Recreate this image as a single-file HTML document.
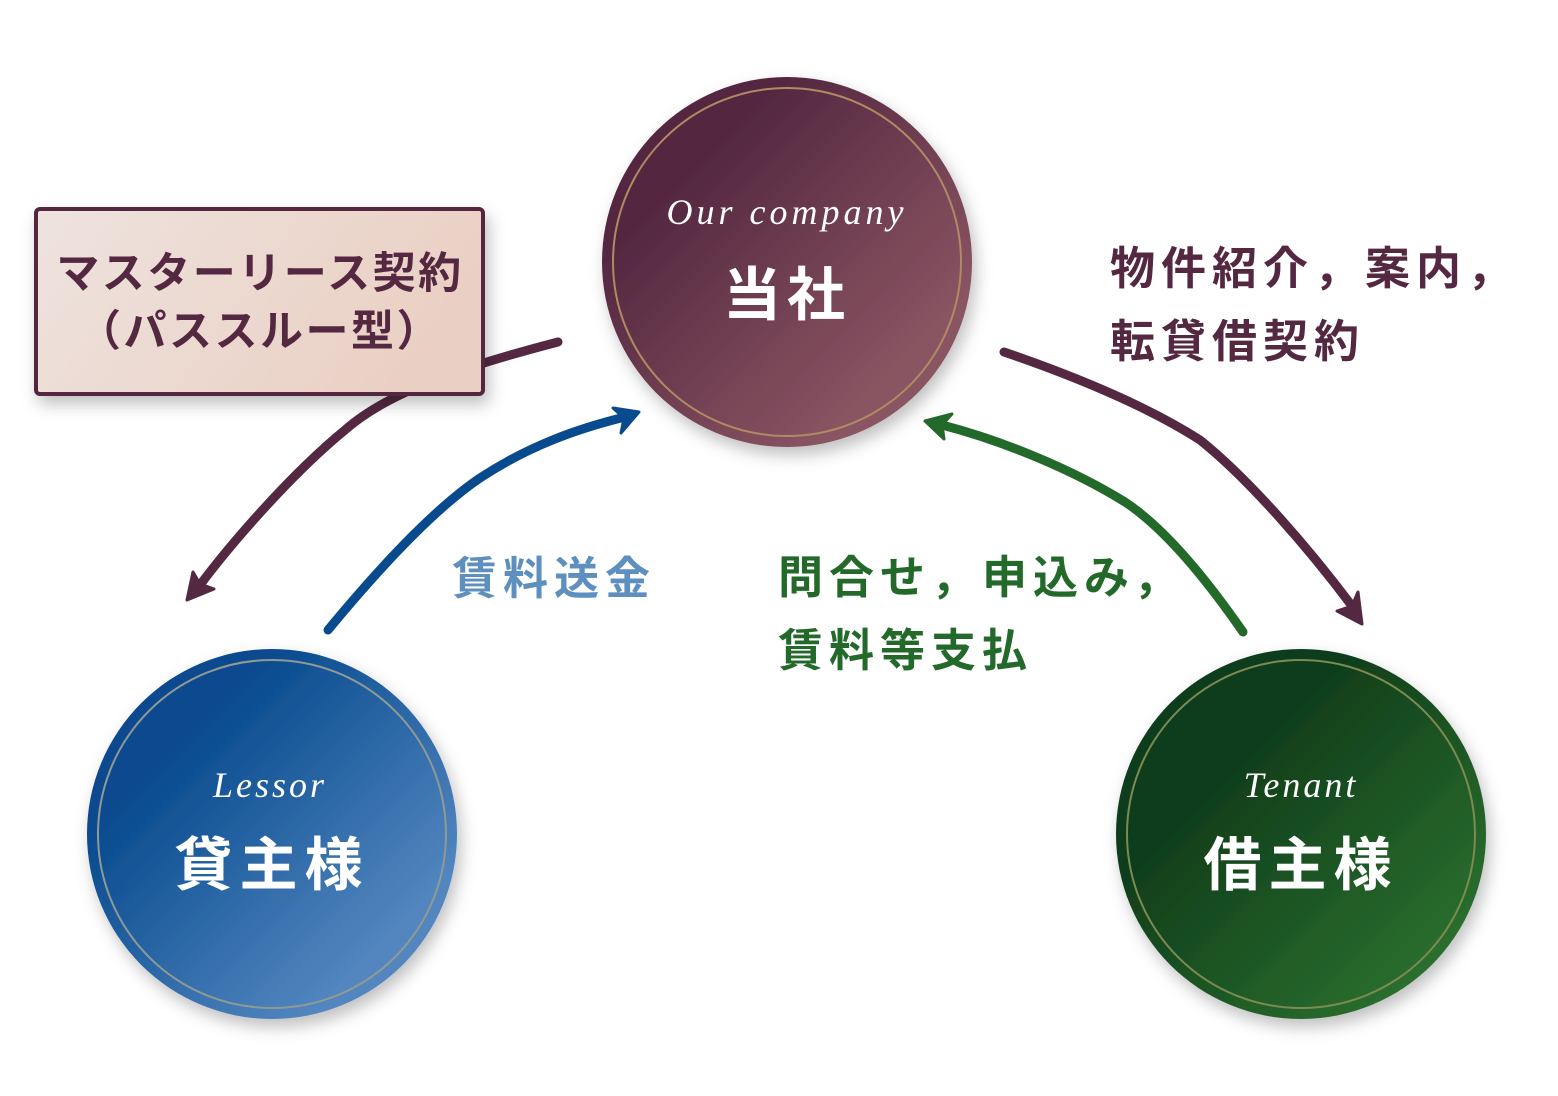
<!DOCTYPE html>
<html><head><meta charset="utf-8"><style>
html,body{margin:0;padding:0;background:#fff;width:1558px;height:1096px;overflow:hidden}
svg{display:block}
.jp{font-family:"Liberation Sans","Noto Sans CJK JP",sans-serif;font-weight:700}
.en{font-family:"Liberation Serif",serif;font-style:italic;fill:#fff}
</style></head><body>
<svg width="1558" height="1096" viewBox="0 0 1558 1096" xmlns="http://www.w3.org/2000/svg">
<defs>
<linearGradient id="gc" x1="0" y1="0" x2="1" y2="1"><stop offset="0.25" stop-color="#552841"/><stop offset="0.8" stop-color="#8a5562"/></linearGradient>
<linearGradient id="gl" x1="0" y1="0" x2="1" y2="1"><stop offset="0.25" stop-color="#074a8e"/><stop offset="0.8" stop-color="#5286bf"/></linearGradient>
<linearGradient id="gt" x1="0" y1="0" x2="1" y2="1"><stop offset="0.3" stop-color="#0f3c1a"/><stop offset="0.85" stop-color="#2a6e2e"/></linearGradient>
<linearGradient id="gb" x1="0" y1="0" x2="1" y2="0.3"><stop offset="0" stop-color="#eee3de"/><stop offset="1" stop-color="#ead0c4"/></linearGradient>
<filter id="sh" x="-20%" y="-20%" width="140%" height="140%"><feDropShadow dx="4" dy="8" stdDeviation="8" flood-color="#000" flood-opacity="0.25"/></filter>
</defs>

<g fill="none" stroke-width="9" stroke-linecap="round">
<path d="M558,342 C470,365 390,390 345,430 C290,475 230,545 200,585" stroke="#552841"/>
<path d="M328,630 C390,555 440,505 480,478 C530,445 580,428 625,417" stroke="#074a8e"/>
<path d="M1243,632 C1200,570 1160,525 1125,502 C1070,468 1000,440 942,425" stroke="#236a2a"/>
<path d="M1004,352 C1080,378 1150,408 1200,440 C1250,480 1310,550 1352,606" stroke="#552841"/>
</g>
<path d="M187,600 L193,572 L200,584 L214,589 Z" fill="#552841" stroke="#552841" stroke-width="3" stroke-linejoin="round"/>
<path d="M639,412 L621,433 L624,418 L613,408 Z" fill="#074a8e" stroke="#074a8e" stroke-width="3" stroke-linejoin="round"/>
<path d="M925,421 L952,414 L942,425 L944,439 Z" fill="#236a2a" stroke="#236a2a" stroke-width="3" stroke-linejoin="round"/>
<path d="M1362,624 L1337,611 L1352,606 L1358,592 Z" fill="#552841" stroke="#552841" stroke-width="3" stroke-linejoin="round"/>

<rect x="36" y="209" width="447" height="185" rx="4" fill="url(#gb)" stroke="#552841" stroke-width="4" filter="url(#sh)"/>
<text class="jp" x="260" y="288" font-size="43" fill="#552841" text-anchor="middle" letter-spacing="2.5">マスターリース契約</text>
<text class="jp" x="260" y="346" font-size="43" fill="#552841" text-anchor="middle" letter-spacing="2.5">（パススルー型）</text>

<g filter="url(#sh)">
<circle cx="787" cy="262" r="185" fill="url(#gc)"/>
<circle cx="272" cy="834" r="185" fill="url(#gl)"/>
<circle cx="1301" cy="834" r="185" fill="url(#gt)"/>
</g>
<circle cx="787" cy="262" r="174" fill="none" stroke="#b08a62" stroke-width="2"/>
<circle cx="272" cy="834" r="174" fill="none" stroke="#8f9a95" stroke-width="2"/>
<circle cx="1301" cy="834" r="174" fill="none" stroke="#7d8a50" stroke-width="2"/>

<text class="en" x="787" y="224" font-size="36" text-anchor="middle" letter-spacing="4">Our company</text>
<text class="jp" x="787" y="315" font-size="58" fill="#fff" text-anchor="middle" letter-spacing="6">当社</text>
<text class="en" x="270" y="797" font-size="36" text-anchor="middle" letter-spacing="3">Lessor</text>
<text class="jp" x="272" y="885" font-size="58" fill="#fff" text-anchor="middle" letter-spacing="7">貸主様</text>
<text class="en" x="1301" y="797" font-size="36" text-anchor="middle" letter-spacing="3">Tenant</text>
<text class="jp" x="1301" y="885" font-size="58" fill="#fff" text-anchor="middle" letter-spacing="7">借主様</text>

<text class="jp" x="1110" y="284" font-size="45" fill="#552841" letter-spacing="6">物件紹介，案内，</text>
<text class="jp" x="1110" y="357" font-size="45" fill="#552841" letter-spacing="6">転貸借契約</text>
<text class="jp" x="452" y="594" font-size="45" fill="#5d8fbf" letter-spacing="6">賃料送金</text>
<text class="jp" x="778" y="593" font-size="45" fill="#236a2a" letter-spacing="6">問合せ，申込み，</text>
<text class="jp" x="778" y="666" font-size="45" fill="#236a2a" letter-spacing="6">賃料等支払</text>
</svg>
</body></html>
